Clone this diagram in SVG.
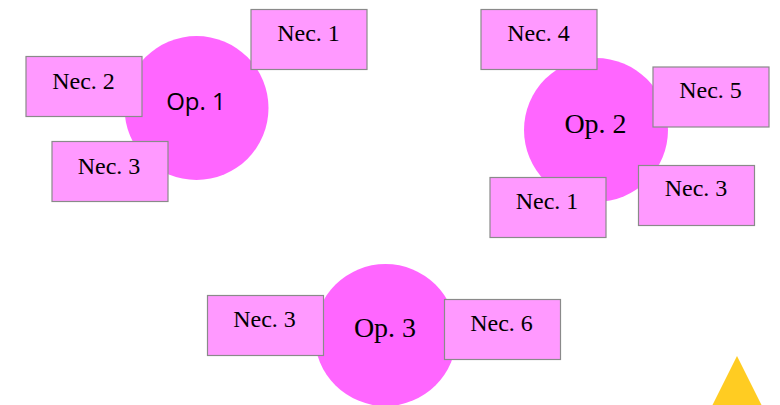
<svg xmlns="http://www.w3.org/2000/svg" width="780" height="405" viewBox="0 0 780 405">
<style>
.op{fill:#FF66FF}
.nec{fill:#FF99FF;stroke:#8A8A8A;stroke-width:1.2}
.t{font-family:"Liberation Serif","Times New Roman",serif;font-size:24px;fill:#000;text-anchor:middle}
.to{font-family:"Liberation Serif","Times New Roman",serif;font-size:28px;fill:#000;text-anchor:middle}
.ts{font-family:"Open Sans","Noto Sans",sans-serif;font-size:24px;fill:#000;text-anchor:middle}
</style>
<rect width="780" height="405" fill="#fff"/>
<g id="op1"><circle class="op" cx="196.5" cy="108" r="72"/><text class="ts" x="196" y="110">Op. 1</text></g>
<g id="op2"><circle class="op" cx="596" cy="130" r="72"/><text class="to" x="595.5" y="133">Op. 2</text></g>
<g id="op3"><circle class="op" cx="385.5" cy="335" r="71"/><text class="to" x="385" y="337">Op. 3</text></g>
<g id="op1-nec1"><rect class="nec" x="251" y="9.5" width="116" height="60"/><text class="t" x="308.5" y="41">Nec. 1</text></g>
<g id="op1-nec2"><rect class="nec" x="26" y="56.5" width="116" height="60"/><text class="t" x="83.5" y="88.5">Nec. 2</text></g>
<g id="op1-nec3"><rect class="nec" x="52" y="141.5" width="116" height="60"/><text class="t" x="109" y="173.5">Nec. 3</text></g>
<g id="op2-nec4"><rect class="nec" x="481" y="9.5" width="116" height="60"/><text class="t" x="538.5" y="41">Nec. 4</text></g>
<g id="op2-nec5"><rect class="nec" x="653" y="67" width="116" height="60"/><text class="t" x="710.5" y="97.5">Nec. 5</text></g>
<g id="op2-nec1"><rect class="nec" x="490" y="177.5" width="116" height="60"/><text class="t" x="547" y="208.5">Nec. 1</text></g>
<g id="op2-nec3"><rect class="nec" x="638.5" y="165.5" width="116" height="60"/><text class="t" x="696" y="196">Nec. 3</text></g>
<g id="op3-nec3"><rect class="nec" x="207.5" y="295.5" width="116" height="60"/><text class="t" x="264.5" y="327">Nec. 3</text></g>
<g id="op3-nec6"><rect class="nec" x="444.5" y="299.5" width="116" height="60"/><text class="t" x="501.5" y="331">Nec. 6</text></g>
<g id="connectors"/>
<polygon id="triangle" points="737,356 712,406 762,406" fill="#FFCC22"/>
</svg>
